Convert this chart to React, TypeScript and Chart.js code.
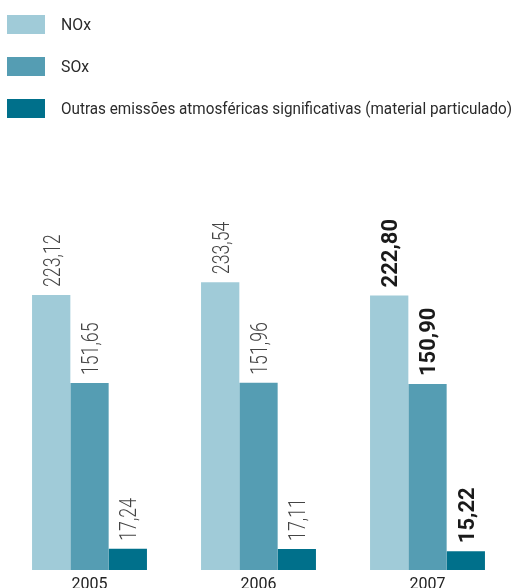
import React, { useEffect, useRef } from "react";
import { Chart, registerables } from "chart.js";

Chart.register(...registerables);

const categories = ["2005", "2006", "2007"];
const seriesNames = [
  "NOx",
  "SOx",
  "Outras emissões atmosféricas significativas (material particulado)",
];
const noxValues = [223.12, 233.54, 222.8];
const soxValues = [151.65, 151.96, 150.9];
const otherValues = [17.24, 17.11, 15.22];
const seriesColors = ["#a0cbd8", "#559db3", "#00708b"];
const boldCategories = ["2007"];
const yMax = 340;

const fmt = (v: number) => v.toFixed(2).replace(".", ",");

const legendPlugin = {
  id: "customLegend",
  afterDraw(chart: any) {
    const ctx = chart.ctx;
    ctx.save();
    chart.data.datasets.forEach((ds: any, i: number) => {
      const top = 15 + i * 42;
      ctx.fillStyle = ds.backgroundColor;
      ctx.fillRect(7, top, 38, 19);
      ctx.font = "400 17px Roboto";
      ctx.fillStyle = "#2b2b2b";
      ctx.textBaseline = "middle";
      ctx.textAlign = "left";
      const w = ctx.measureText(ds.label).width;
      const target = ds.label.length > 20 ? 451 : w * 0.93;
      const sx = Math.min(1, target / w);
      ctx.save();
      ctx.translate(61, top + 11);
      ctx.scale(sx, 1);
      ctx.fillText(ds.label, 0, 0);
      ctx.restore();
    });
    ctx.restore();
  },
};

const valueLabelPlugin = {
  id: "valueLabels",
  afterDatasetsDraw(chart: any) {
    const ctx = chart.ctx;
    ctx.save();
    chart.data.datasets.forEach((ds: any, di: number) => {
      const meta = chart.getDatasetMeta(di);
      meta.data.forEach((bar: any, j: number) => {
        const bold = boldCategories.includes(chart.data.labels[j]);
        const text = fmt(ds.data[j]);
        ctx.save();
        if (bold) {
          ctx.font = "700 22px Roboto";
          ctx.fillStyle = "#1a1a1a";
        } else {
          ctx.font = "300 24px Roboto";
          ctx.fillStyle = "#444444";
        }
        const cap = bold ? 15.6 : 17;
        ctx.translate(bar.x + cap / 2, bar.y - 8);
        ctx.rotate(-Math.PI / 2);
        if (!bold) ctx.scale(0.74, 1);
        ctx.textAlign = "left";
        ctx.textBaseline = "alphabetic";
        ctx.fillText(text, 0, 0);
        ctx.restore();
      });
    });
    ctx.restore();
  },
};

export default function App() {
  const ref = useRef<HTMLCanvasElement | null>(null);

  useEffect(() => {
    if (!ref.current) return;
    const chart = new Chart(ref.current, {
      type: "bar",
      data: {
        labels: categories,
        datasets: [
          { label: seriesNames[0], data: noxValues, backgroundColor: seriesColors[0] },
          { label: seriesNames[1], data: soxValues, backgroundColor: seriesColors[1] },
          { label: seriesNames[2], data: otherValues, backgroundColor: seriesColors[2] },
        ],
      },
      options: {
        animation: false,
        responsive: false,
        devicePixelRatio: 1,
        datasets: {
          bar: { barPercentage: 1, categoryPercentage: 0.68 },
        },
        layout: { padding: { left: 5, right: 2, top: 151, bottom: 4.8 } },
        plugins: {
          legend: { display: false },
          tooltip: { enabled: false },
        },
        scales: {
          x: {
            grid: { display: false, drawTicks: false },
            border: { display: false },
            ticks: {
              padding: 5,
              color: "#222222",
              font: { family: "Roboto", size: 16, weight: "400" },
            },
          },
          y: { display: false, min: 0, max: yMax },
        },
      },
      plugins: [legendPlugin, valueLabelPlugin],
    } as any);
    return () => chart.destroy();
  }, []);

  return (
    <div
      style={{
        position: "absolute",
        left: 0,
        top: 0,
        width: 514,
        height: 588,
        overflow: "hidden",
        background: "#ffffff",
      }}
    >
      <canvas ref={ref} width={514} height={604} style={{ width: 514, height: 604, display: "block" }} />
    </div>
  );
}
